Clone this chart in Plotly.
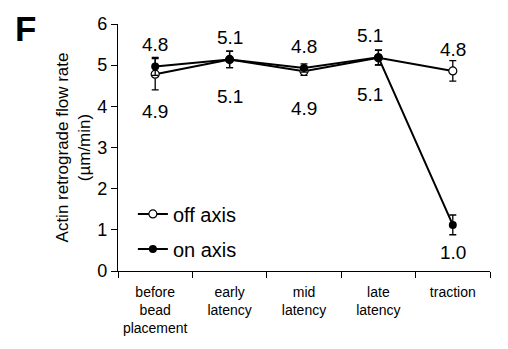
import plotly.graph_objects as go

categories = ["before<br>bead<br>placement", "early<br>latency", "mid<br>latency", "late<br>latency", "traction"]
off_axis = [4.78, 5.14, 4.85, 5.18, 4.86]
off_err = [0.38, 0.2, 0.1, 0.18, 0.25]
on_axis = [4.97, 5.14, 4.93, 5.19, 1.12]
on_err = [0.22, 0.2, 0.1, 0.18, 0.24]
top_labels = ["4.8", "5.1", "4.8", "5.1", "4.8"]
bottom_labels = ["4.9", "5.1", "4.9", "5.1", "1.0"]

FONT = "Liberation Sans, Arial, sans-serif"

fig = go.Figure()
fig.add_trace(go.Scatter(
    x=categories, y=off_axis, name="off axis", mode="lines+markers", legendgroup="off",
    line=dict(color="black", width=2),
    marker=dict(symbol="circle", size=8, color="white", line=dict(color="black", width=1.2)),
    error_y=dict(type="data", array=off_err, color="black", thickness=1.3, width=3.5),
))
fig.add_trace(go.Scatter(
    x=categories, y=on_axis, name="on axis", mode="lines+markers", legendgroup="on",
    line=dict(color="black", width=2),
    marker=dict(symbol="circle", size=8, color="black"),
    error_y=dict(type="data", array=on_err, color="black", thickness=1.3, width=3.5),
))

x_shifts = [0, 0, 0, -8, 0]
for i, c in enumerate(categories):
    if i < 4:
        hi = max(off_axis[i], on_axis[i])
        lo = min(off_axis[i], on_axis[i])
        fig.add_annotation(x=c, y=hi, text=top_labels[i], showarrow=False, xshift=x_shifts[i],
                           yanchor="middle", yshift=22, font=dict(size=19, color="black", family=FONT))
        fig.add_annotation(x=c, y=lo, text=bottom_labels[i], showarrow=False, xshift=x_shifts[i],
                           yanchor="middle", yshift=-37, font=dict(size=19, color="black", family=FONT))
    else:
        fig.add_annotation(x=c, y=off_axis[i], text=top_labels[i], showarrow=False,
                           yanchor="middle", yshift=21, font=dict(size=19, color="black", family=FONT))
        fig.add_annotation(x=c, y=on_axis[i], text=bottom_labels[i], showarrow=False,
                           yanchor="middle", yshift=-28, font=dict(size=19, color="black", family=FONT))

fig.add_annotation(xref="paper", yref="paper", x=-0.283, y=0.98, text="<b>F</b>", showarrow=False,
                   xanchor="left", yanchor="middle", font=dict(size=35, color="black", family=FONT))

fig.update_layout(
    width=508, height=349,
    margin=dict(l=118, r=18, t=24, b=78),
    plot_bgcolor="white", paper_bgcolor="white",
    font=dict(family=FONT, color="black"),
    showlegend=True,
    legend=dict(x=0.04, y=0.31, xanchor="left", yanchor="top", traceorder="grouped",
                font=dict(size=20, family=FONT), bgcolor="rgba(0,0,0,0)", itemwidth=30,
                tracegroupgap=6),
    xaxis=dict(type="category", range=[-0.5, 4.5], showline=True, linecolor="black", linewidth=1.3,
               ticks="outside", tickson="boundaries", ticklen=6, tickcolor="black",
               ticklabelstandoff=8,
               tickfont=dict(size=14, family=FONT), showgrid=False, zeroline=False),
    yaxis=dict(range=[0, 6], showline=True, linecolor="black", linewidth=1.3,
               ticks="outside", ticklen=6, tickcolor="black", dtick=1,
               tickfont=dict(size=18, family=FONT), showgrid=False, zeroline=False,
               title=dict(text="Actin retrograde flow rate<br>(µm/min)", font=dict(size=17, family=FONT),
                          standoff=2)),
)

fig.write_html("out.html")
